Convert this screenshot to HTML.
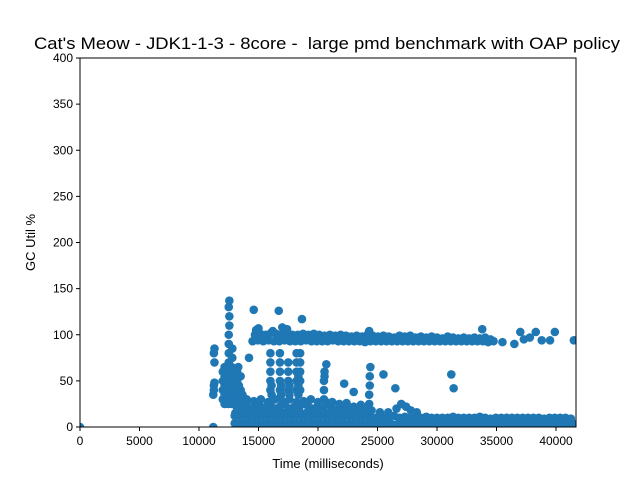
<!DOCTYPE html>
<html><head><meta charset="utf-8"><style>
body{margin:0;background:#fff;}
svg{display:block;font-family:"Liberation Sans","DejaVu Sans",sans-serif;}
</style></head><body>
<svg id="chart" width="640" height="480">
<rect width="640" height="480" fill="#fff"/>
<text x="327" y="49" text-anchor="middle" font-size="16.5" textLength="586" lengthAdjust="spacingAndGlyphs" xml:space="preserve">Cat's Meow - JDK1-1-3 - 8core -  large pmd benchmark with OAP policy</text>
<defs><clipPath id="plotclip"><rect x="80" y="58" width="496" height="369"/></clipPath></defs>
<g id="marks" clip-path="url(#plotclip)"></g>
<g id="axes"></g>
<text x="328" y="468" text-anchor="middle" font-size="13">Time (milliseconds)</text>
<text transform="translate(35,242.5) rotate(-90)" text-anchor="middle" font-size="13">GC Util %</text>
</svg>
<script>
const xTicks = [0,5000,10000,15000,20000,25000,30000,35000,40000];
const yTicks = [0,50,100,150,200,250,300,350,400];
const timeMs = [
0,
11200,11200,11250,11250,11300,11300,11250,11300,
12000,12000,12000,12000,12300,12300,12300,12300,12600,12600,12600,12600,12900,12900,12900,12900,13200,13200,13200,13200,13500,13500,13500,13500,
12150,12150,12150,12150,12150,12450,12450,12450,12450,12450,12750,12750,12750,12750,12750,13050,13050,13050,13050,13050,13350,13350,13350,13350,13650,13650,13650,13950,13950,
12500,12500,12500,12500,12550,12550,12500,12550,12800,12800,13300,13300,
14600,16700,18650,14200,
16000,16000,16000,16000,16000,16800,16800,16800,16800,16800,17500,17500,17500,17500,18200,18200,18200,18200,18200,18500,18500,18500,18500,18500,
16100,16100,16900,16900,17600,17600,18350,18350,18350,
20500,20500,20500,20550,20550,20700,22200,23000,
24300,24300,24350,24350,24400,25500,26500,31200,31400,33800,
13000,13400,13800,14200,14600,15000,15400,15800,16200,16600,17000,17400,17800,18200,18600,19000,19400,19800,20200,20600,21000,21400,21800,22200,22600,23000,23400,23800,24200,
13000,13400,13800,14200,14600,15000,15400,15800,16200,16600,17000,17400,17800,18200,18600,19000,19400,19800,20200,20600,21000,21400,21800,22200,22600,23000,23400,23800,24200,
13200,13600,14000,14400,14800,15200,15600,16000,16400,16800,17200,17600,18000,18400,18800,19200,19600,20000,20400,20800,21200,21600,22000,22400,22800,23200,23600,24000,
13400,14000,14600,15200,15800,16400,17000,17600,18200,18800,19400,20000,20600,21200,21800,22400,23000,23600,24200,
13700,14300,14900,15500,16100,16700,17300,17900,18500,19100,19700,20300,20900,21500,22100,22700,23300,23900,
24400,24850,25300,25750,26200,26650,27100,27550,28000,28450,28900,29350,29800,30250,30700,31150,31600,32050,32500,32950,33400,33850,34300,34750,35200,35650,36100,36550,37000,37450,37900,38350,38800,39250,39700,40150,40600,41050,41500,
24600,25050,25500,25950,26400,26850,27300,27750,28200,28650,29100,29550,30000,30450,30900,31350,31800,32250,32700,33150,33600,34050,34500,34950,35400,35850,36300,36750,37200,37650,38100,38550,39000,39450,39900,40350,40800,41250,
24500,25200,25900,26600,27000,27400,27800,28300,
14500,14950,15400,15850,16300,16750,17200,17650,18100,18550,19000,19450,19900,20350,20800,21250,21700,22150,22600,23050,23500,23950,24400,24850,25300,25750,26200,26650,27100,27550,28000,28450,28900,29350,29800,30250,30700,31150,31600,32050,32500,32950,33400,33850,34300,34750,
14700,15150,15600,16050,16500,16950,17400,17850,18300,18750,19200,19650,20100,20550,21000,21450,21900,22350,22800,23250,23700,24150,24600,25050,25500,25950,26400,26850,27300,27750,28200,28650,29100,29550,30000,30450,30900,31350,31800,32250,32700,33150,33600,34050,34500,
15000,17000,14800,16200,17400,24300,35500,36500,37000,37300,37800,38300,38800,39500,39900,41500
];
const gcUtil = [
0,
0,35,40,45,48,70,80,85,
30,40,50,60,30,40,50,60,30,40,50,60,30,40,50,60,30,40,50,60,20,30,40,55,
25,35,45,55,65,25,35,45,55,65,25,35,45,55,65,15,25,35,45,55,15,25,35,45,15,25,35,15,25,
70,80,90,100,110,120,130,137,75,85,55,65,
127,126,117,75,
40,50,60,70,80,40,50,60,70,80,40,50,60,70,40,50,60,70,80,40,50,60,70,80,
35,45,35,45,35,45,35,45,55,
30,40,50,55,60,68,47,38,
25,35,45,55,65,57,42,57,42,106,
4,4,4,4,4,4,4,4,4,4,4,4,4,4,4,4,4,4,4,4,4,4,4,4,4,4,4,4,4,
12,12,12,12,12,12,12,12,12,12,12,12,12,12,12,12,12,12,12,12,12,12,12,12,12,12,12,12,12,
20,22,22,20,25,22,20,25,20,22,25,20,22,20,25,22,20,22,20,25,20,18,20,18,20,18,18,18,
28,30,28,30,27,30,28,30,27,28,30,27,28,27,25,26,22,24,20,
16,16,17,16,17,16,16,17,16,16,16,16,16,15,14,14,14,14,
3,3,3,3,3,3,3,3,3,3,3,3,3,3,3,3,3,3,3,3,3,3,3,3,3,3,3,3,3,3,3,3,3,3,3,3,3,3,3,
10,11,10,11,12,10,11,10,10,10,11,10,10,10,10,11,10,10,10,10,11,10,9,10,10,10,10,10,10,10,10,10,9,10,10,10,10,9,
18,16,16,20,25,22,18,16,
93,94,93,94,93,93,94,93,93,93,94,93,93,93,93,94,93,93,93,93,93,92,93,93,93,93,93,93,93,93,93,93,93,93,93,93,93,93,93,93,93,93,93,93,92,93,
100,101,100,102,101,100,101,100,100,101,100,101,100,99,100,99,100,99,98,99,98,100,99,98,99,98,97,99,98,99,97,98,97,98,97,96,98,97,96,97,96,97,96,97,95,
107,108,105,104,106,104,92,90,103,95,97,103,94,94,103,94
];
const X0=80, X1=576, XMAX=41680, Y0=427, Y1=58, YMAX=400;
const NS='http://www.w3.org/2000/svg';
function xScale(v){return X0+(v/XMAX)*(X1-X0);}
function yScale(v){return Y0-(v/YMAX)*(Y0-Y1);}
const marks=document.getElementById('marks');
for(let i=0;i<timeMs.length;i++){
  const c=document.createElementNS(NS,'circle');
  c.setAttribute('cx',xScale(timeMs[i]));
  c.setAttribute('cy',yScale(gcUtil[i]));
  c.setAttribute('r',4.3);
  c.setAttribute('fill','#1f77b4');
  
  
  marks.appendChild(c);
}
const axes=document.getElementById('axes');
const frame=document.createElementNS(NS,'rect');
frame.setAttribute('x',X0);frame.setAttribute('y',Y1);
frame.setAttribute('width',X1-X0);frame.setAttribute('height',Y0-Y1);
frame.setAttribute('fill','none');frame.setAttribute('stroke','#000');frame.setAttribute('stroke-width','1');


axes.appendChild(frame);
xTicks.forEach(t=>{
  const x=xScale(t);
  const l=document.createElementNS(NS,'line');
  l.setAttribute('x1',x);l.setAttribute('x2',x);l.setAttribute('y1',Y0);l.setAttribute('y2',Y0+4);
  l.setAttribute('stroke','#000');
  
  
  axes.appendChild(l);
  const tx=document.createElementNS(NS,'text');
  tx.setAttribute('x',x);tx.setAttribute('y',Y0+18);tx.setAttribute('text-anchor','middle');tx.setAttribute('font-size','12');
  tx.textContent=t;
  
  
  axes.appendChild(tx);
});
yTicks.forEach(t=>{
  const y=yScale(t);
  const l=document.createElementNS(NS,'line');
  l.setAttribute('x1',X0-4);l.setAttribute('x2',X0);l.setAttribute('y1',y);l.setAttribute('y2',y);
  l.setAttribute('stroke','#000');
  
  
  axes.appendChild(l);
  const tx=document.createElementNS(NS,'text');
  tx.setAttribute('x',X0-7);tx.setAttribute('y',y+4);tx.setAttribute('text-anchor','end');tx.setAttribute('font-size','12');
  tx.textContent=t;
  
  
  axes.appendChild(tx);
});
</script>
</body></html>
